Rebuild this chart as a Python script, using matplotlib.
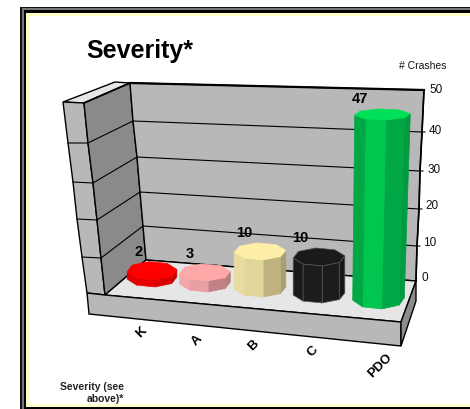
import numpy as np
import matplotlib
matplotlib.use('Agg')
import matplotlib.pyplot as plt
from matplotlib.patches import Polygon, Rectangle

plt.rcParams['font.family'] = ['Liberation Sans', 'DejaVu Sans']

categories = ['K', 'A', 'B', 'C', 'PDO']
crashes = [2, 3, 10, 10, 47]
value_labels = ['2', '3', '10', '10', '47']
axis_ticks = [0, 10, 20, 30, 40, 50]
axis_title = '# Crashes'
x_title = 'Severity (see\nabove)*'
chart_title = 'Severity*'

# pixel rows of the ticks on the right edge of the back wall, the 3d look
# makes them unevenly spaced
tick_y = np.array([282, 247, 210, 172, 133, 91])
tick_x = np.array([416, 417, 419, 420, 422, 424])
left_y = np.array([261, 227, 193, 158, 122, 84])
left_x = np.array([146, 143, 140, 137, 133, 130])
wall_y = np.array([296, 259, 221, 184, 144, 104])
wall_x = np.array([105, 101, 97, 93, 88, 84])
outer_x = np.array([87, 82, 77, 73, 68, 63])
outer_y = np.array([294, 258, 220, 183, 144, 103])
label_x = [425, 430, 432, 434, 435, 436]
label_y = [278, 243, 206, 170, 131, 90]

# top centre, half width, half depth, colours (top, then side faces)
bar_geom = [
    (152, 25, 9, 9, '#ff0000', ['#e00000', '#e80000', '#d80000', '#c80000']),
    (205, 25.5, 8.5, 9, '#ffa8a8', ['#f0a8ac', '#e8a0a4', '#c08284', '#b87c7c']),
    (260, 26, 8.5, 9, '#ffeea8', ['#e8dca0', '#e2d69a', '#bfb27e', '#a89e70']),
    (319, 26, 9, 9, '#1a1a1a', ['#1a1a1a', '#1c1c1c', '#1c1c1c', '#181818']),
    (382.5, 28, 5.5, 10, '#00e058', ['#00a845', '#00c54f', '#00a845', '#009a40']),
]
base_front = [288, 293, 298, 304, 310]
base_shift = [0, 0, 0, 0, -4]
label_dx = [-13, -15, -16, -19, -22.5]
cat_x = [141, 197, 253, 313, 380]
cat_y = [333, 340, 346, 352, 366]


def bar_height(v):
    return 1.06 * np.interp(v, axis_ticks, tick_y[0] - tick_y)


def octagon(cx, cy, rx, ry):
    a = np.radians(np.arange(8) * 45 - 7)
    return np.column_stack([cx + rx * np.cos(a), cy + ry * np.sin(a)])


def add_poly(ax, pts, fc, ec='black', lw=1.0, z=2):
    ax.add_patch(Polygon(pts, closed=True, fc=fc, ec=ec, lw=lw, zorder=z))


fig = plt.figure(figsize=(4.7, 4.1), dpi=100)
ax = fig.add_axes([0, 0, 1, 1])
ax.set_xlim(0, 470)
ax.set_ylim(410, 0)
ax.axis('off')

# slide frame
ax.add_patch(Rectangle((0, 0), 13, 1, fc='#ffffc8', ec='none'))
ax.add_patch(Rectangle((20, 8), 460, 402, fc='#111111', ec='none'))
ax.add_patch(Rectangle((22, 9), 460, 401, fc='#777777', ec='none'))
ax.add_patch(Rectangle((23.5, 10.5), 460, 400, fc='black', ec='none'))
ax.add_patch(Rectangle((26, 14), 460, 394, fc='#ffffc8', ec='none'))
ax.add_patch(Rectangle((29, 17), 460, 388, fc='white', ec='none'))

# walls
add_poly(ax, [(outer_x[5], outer_y[5]), (115, 83), (left_x[5], left_y[5]),
              (wall_x[5], wall_y[5])], '#e6e6e6')
add_poly(ax, np.column_stack([np.r_[outer_x, wall_x[::-1]],
                              np.r_[outer_y, wall_y[::-1]]]), '#b8b8b8')
add_poly(ax, np.column_stack([np.r_[wall_x, left_x[::-1]],
                              np.r_[wall_y, left_y[::-1]]]), '#8a8a8a')
add_poly(ax, np.column_stack([np.r_[left_x, tick_x[::-1]],
                              np.r_[left_y, tick_y[::-1]]]), '#b8b8b8')
for i in range(1, 5):
    ax.plot([outer_x[i], wall_x[i], left_x[i], tick_x[i], tick_x[i] + 3],
            [outer_y[i], wall_y[i], left_y[i], tick_y[i], tick_y[i]],
            color='black', lw=0.8, zorder=3)
ax.plot([left_x[5], tick_x[5]], [left_y[5], tick_y[5]], color='black', lw=1.6, zorder=3)
ax.plot(tick_x, tick_y, color='black', lw=1.2, zorder=3)
ax.plot([wall_x[5], left_x[5]], [wall_y[5], left_y[5]], color='black', lw=1.2, zorder=3)

# floor
add_poly(ax, [(105, 296), (146, 261), (416, 282), (401, 323)], '#e6e6e6', z=4)
add_poly(ax, [(87, 294), (105, 296), (401, 323), (401, 347), (89, 315)], '#b8b8b8', z=4)
add_poly(ax, [(401, 323), (416, 282), (416, 302), (401, 347)], '#8c8c8c', z=4)

# bars, heights come from the same scale as the axis
for i, v in enumerate(crashes):
    cx, rx, ry_top, ry_bot, c_top, c_sides = bar_geom[i]
    h = bar_height(v)
    bot_c = base_front[i] - ry_bot
    top_c = base_front[i] - h - ry_top
    top = octagon(cx, top_c, rx, ry_top)
    bot = octagon(cx + base_shift[i], bot_c, rx + base_shift[i] * 0.5, ry_bot)
    is_black = c_top == '#1a1a1a'
    faces = [(0, 1), (1, 2), (2, 3), (3, 4)]
    cols = c_sides[::-1]
    for (a, b), col in zip(faces, cols):
        add_poly(ax, [top[a], top[b], bot[b], bot[a]], col,
                 ec='#555555' if is_black else col, lw=0.5, z=5 + i)
    add_poly(ax, top, c_top, ec='#555555' if is_black else c_top, lw=0.5, z=5 + i)
    ax.text(cx + label_dx[i], top_c - ry_top - 11, value_labels[i], fontsize=10.5,
            fontweight='bold', ha='center', va='center', zorder=20)

# tick labels
for v, x, y in zip(axis_ticks, label_x, label_y):
    ax.text(x, y, str(v), fontsize=8.5, ha='center', va='center', color='#111111', zorder=20)
ax.text(423, 66, axis_title, fontsize=7.5, ha='center', va='center', color='#111111')

for c, x, y in zip(categories, cat_x, cat_y):
    ax.text(x, y, c, fontsize=9.5, fontweight='bold', rotation=45, ha='center', va='center')

ax.text(139.5, 51, chart_title, fontsize=18, fontweight='bold', ha='center', va='center')
ax.text(124, 393, x_title, fontsize=7.5, fontweight='bold', ha='right', va='center',
        color='#222222', linespacing=1.15)

plt.savefig('out.png', dpi=100)
